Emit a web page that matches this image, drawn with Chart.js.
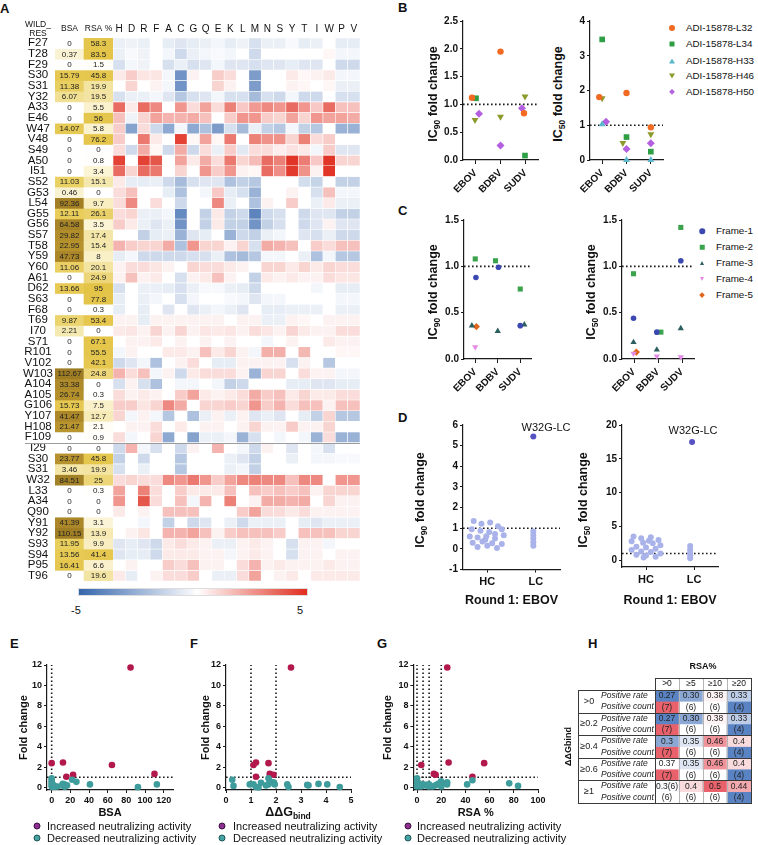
<!DOCTYPE html>
<html lang="en">
<head>
<meta charset="UTF-8">
<title>ADI-15878 mutational scanning</title>
<script src="https://cdn.jsdelivr.net/npm/chart.js"></script>
<style>
  html, body { margin: 0; padding: 0; background: #fff; }
  #fig { position: relative; width: 758px; height: 845px; overflow: hidden; background: #fff;
         font-family: Arial, "Liberation Sans", sans-serif; color: #111; }
  #fig canvas { position: absolute; }
  .t { position: absolute; white-space: nowrap; line-height: 1; }
  .panel { font-weight: bold; font-size: 13px; }
  .ytitle { font-weight: bold; font-size: 12.5px; }
  .sub { font-size: 8.5px; position: relative; top: 3px; }
  .leg { font-size: 9.8px; }
  .leg2 { font-size: 11px; }
  .hdr { font-size: 8.5px; }
  .mk { position: absolute; transform: translate(-50%, -50%); }
  #colorbar { position: absolute; left: 78px; top: 588px; width: 230px; height: 8px;
              background: linear-gradient(to right, #3465ac, #ffffff 52%, #e02d1e); border: 1px solid #ddd; box-sizing: border-box; }
</style>
</head>
<body>
<div id="fig"><div id="colorbar"></div></div>
<script>
// ---------------- A: heat map ----------------
const aminoAcids = ['H','D','R','F','A','C','G','Q','E','K','L','M','N','S','Y','T','I','W','P','V'];
const residues = ['F27','T28','F29','S30','S31','Y32','A33','E46','W47','V48','S49','A50','I51','S52','G53','L54',
  'G55','G56','S57','T58','Y59','Y60','A61','D62','S63','F68','T69','I70','S71','R101','V102','W103','A104','A105',
  'G106','Y107','H108','F109','I29','S30','S31','W32','L33','A34','Q90','Y91','Y92','S93','S94','P95','T96'];
const bsa = [0,0.37,0,15.79,11.38,6.07,0,0,14.07,0,0,0,0,11.03,0.46,92.36,12.11,64.58,29.82,22.95,47.73,11.06,0,
  13.66,0,0,9.87,2.21,0,0,0,112.67,33.38,26.74,15.73,41.47,21.47,0,0,23.77,3.46,84.51,0,0,0,41.39,110.15,11.95,
  13.56,16.41,0];
const rsa = [58.3,83.5,1.5,45.8,19.9,19.5,5.5,56,5.8,76.2,0,0.8,3.4,15.1,0,9.7,26.1,3.5,17.4,15.4,8,20.1,24.9,95,
  77.8,0.3,53.4,0,67.1,55.5,42.1,24.8,0,0.3,7.5,12.7,2.1,0.9,0,45.8,19.9,25,0.3,0,0,3.1,13.9,9.9,41.4,6.6,19.6];
const heavyRows = 38;
const heat = [
  [-0.5,-0.4,-0.5,0,-0.6,-0.8,-0.6,-0.5,-0.3,-0.6,-0.4,-1.0,-0.5,-0.5,-0.2,-0.6,-0.5,0,-0.6,-0.6],
  [-0.5,-0.2,-0.4,0,-0.3,-1.2,-0.5,-0.3,-0.2,-0.3,0,-1.2,0,0,0,0,0,0.2,-0.3,-0.3],
  [-1.0,-0.3,-0.4,0,-1.0,-0.5,-1.0,-0.8,-0.3,-0.8,-0.8,-1.0,-0.8,-0.8,-0.6,-0.8,-0.8,0,-1.2,-1.2],
  [0.5,1.2,0.6,0.6,-0.3,-3.5,0.3,0,1.2,0.8,0,-3.2,0,0,0.5,0.2,0.3,0.5,-0.3,-0.3],
  [0,1.0,0,0.3,-0.3,-3.5,0,0,1.0,0.3,0,-3.2,0,0,0.3,0.2,0,0.2,-0.5,-0.5],
  [-1.0,-0.5,-0.5,-0.3,-0.8,-1.8,-1.0,-0.8,-0.3,-1.0,-1.0,-2.2,-1.0,-1.2,-0.3,-1.2,-1.2,0,-1.0,-1.0],
  [3.5,0.5,3.5,2.8,0,2.5,0.8,2.2,0.8,3.0,1.3,2.4,2.8,2.5,3.5,2.5,1.3,3.5,1.5,1.5],
  [1.5,-0.4,1.0,2.2,1.8,1.8,2.0,1.5,0,1.2,2.5,2.5,1.2,1.0,2.2,1.0,2.5,2.2,2.2,2.0],
  [1.2,-3.0,0.8,-1.2,-2.8,-0.3,-2.8,-2.0,-3.2,-1.0,-2.2,-0.5,-1.5,-1.8,-0.3,-1.5,-1.8,0,-2.5,-2.5],
  [1.2,0,3.2,0.5,0,4.5,0.2,2.2,0.2,3.2,0,3.0,2.6,2.6,1.0,3.0,0.8,1.2,0,0],
  [0.8,-1.2,2.0,0.2,-1.2,2.0,-1.2,0.8,-0.5,1.2,-0.7,0.8,0.8,0.4,0.7,0.5,-0.3,1.2,-0.8,-0.8],
  [4.5,0,4.5,4.0,0,2.2,0.5,2.0,0.8,3.2,1.0,1.6,3.5,3.0,4.8,3.1,1.3,4.8,1.0,1.0],
  [3.5,1.0,3.5,3.2,0,1.0,0,2.5,1.2,2.5,0.3,0.2,3.5,2.7,4.7,2.6,0.3,4.8,0,0],
  [0.5,-0.6,-0.6,-0.5,-1.2,-2.2,-1.0,-0.8,-0.8,-2.0,-1.5,-1.8,0,0,0,-1.1,-1.4,0,-1.5,-1.5],
  [0.8,1.5,0,0,-0.6,-2.0,0,-0.3,1.3,-0.6,-1.0,-2.5,0,0,0.3,0,-1.0,1.5,-0.3,-0.3],
  [0.8,2.8,0,0.8,0,-1.2,0,0,2.8,-0.5,0,-2.0,0.3,0,1.2,0,-0.5,0.5,-0.5,-0.5],
  [0.8,1.0,-0.5,-0.5,-0.3,-3.8,0,-1.5,0.5,-1.5,-1.2,-4.0,-1.2,-1.0,0,-1.2,-0.8,-0.8,-1.5,-1.5],
  [1.2,0.5,-0.5,-0.8,-0.5,-3.5,0,-1.5,0.5,-1.5,-1.5,-3.5,-1.5,-1.0,0,-1.2,-0.8,0.3,-0.8,-0.8],
  [0,0,-1.5,-0.6,-0.5,-2.5,-0.8,-0.6,0,-2.5,-1.2,-1.5,-0.5,-0.3,0,-0.8,-1.0,-0.5,-1.2,-1.2],
  [1.8,1.2,1.0,1.0,2.0,-2.0,2.5,1.0,1.0,0.3,1.0,-1.0,2.0,1.8,1.5,0,1.2,0.8,1.5,1.5],
  [-0.6,-0.3,-1.2,-1.2,-1.2,-1.2,-1.0,-1.0,-0.5,-2.0,-2.2,-1.8,-0.3,-0.3,0,-0.5,-2.0,-0.3,-1.8,-1.8],
  [0.3,0.8,0.8,0.6,0.3,0,1.0,0.8,0.8,0.5,0.3,0,1.0,1.0,0.5,1.0,0.5,1.0,0.8,0.8],
  [0.3,1.5,0.3,0.5,0,-1.0,0.3,0.5,1.5,0.3,0,-1.5,0.5,0.3,0.5,0.3,0.3,0.8,0.6,0.6],
  [-1.0,0,-0.5,-0.5,-0.6,-1.0,-0.5,-0.2,-0.2,-0.5,-0.6,-1.2,0,0,0,0,-0.3,0,-0.6,-0.6],
  [-0.6,0,-0.5,-0.3,0,-1.0,-0.3,0,0,-0.2,-0.3,-0.8,-0.3,-0.3,0,0,0,0,-0.3,-0.3],
  [-0.6,0,-0.6,0,-0.8,0,-0.8,-0.5,-0.3,-0.5,-0.8,0,-0.6,-0.6,-0.5,-0.5,-0.5,0,-0.5,-0.5],
  [0.3,0.3,-0.6,0.3,0.3,0.3,0.3,0.3,0.3,0,0.3,0.3,-0.5,-0.5,0.3,0.2,0,0.3,0.3,0.3],
  [0.5,0.6,0.3,1.0,0.3,1.0,0.3,0.6,0.5,0.6,0.3,0.8,0.6,0.3,1.0,0.5,0.3,0.3,0.8,0.8],
  [0,0.3,0.3,0.5,0,0.3,0,0.3,0,0.3,0,0,-0.3,0,0.3,0,0,0.5,0.3,0.3],
  [-0.3,0.3,0,0,0.5,0.5,0.3,1.5,0.5,1.0,0.3,-0.3,1.9,1.9,0,1.7,0,0,0.2,0.2],
  [-1.2,-0.8,-0.3,-2.0,0,0.3,0.8,0,-0.6,-0.6,0.3,0.3,0.3,0.3,-1.0,0.3,0,-1.8,0,0],
  [1.8,0.8,1.5,-0.3,0.3,-1.2,0.5,0.8,0.8,0.8,0.3,-2.5,1.0,1.0,0,0.8,0.3,0.3,-0.3,-0.3],
  [-1.0,0.3,-1.0,-2.0,0,-0.3,-0.3,0,-0.3,-1.5,-1.2,0,0,0,-0.6,-0.6,-0.8,-0.8,-0.6,-0.6],
  [0.8,0.3,0.5,0.3,0,1.2,2.2,0.5,0.3,0.5,0.8,2.0,1.2,1.5,0.5,1.0,0.5,0.5,0.8,0.8],
  [1.2,1.2,0.6,1.0,2.8,2.0,0,1.0,1.0,1.2,1.0,2.5,1.2,1.8,0.8,1.5,1.5,0.3,1.5,1.5],
  [1.0,-0.3,0.3,-0.3,-1.8,0,-2.0,-0.5,0.3,-0.5,0.3,-0.8,-0.5,-0.8,0,-0.6,-1.5,1.0,-1.8,-1.8],
  [0,0.3,0.3,0.8,0,0.5,0,0.3,0.3,0,0.3,1.0,0.3,0.3,1.2,0.3,0.3,1.0,0,0],
  [0.8,-0.3,0,1.0,-2.8,0,-3.0,-0.5,-0.5,-0.3,-2.5,-1.0,0,-0.3,0,-0.3,-2.5,0.8,-2.5,-2.5],
  [-1.2,1.8,-0.3,-1.0,0,-1.2,0.3,0,1.8,0,-0.3,-1.2,0.3,0,-0.8,0,-0.3,-1.0,0,0],
  [-1.5,0,-1.2,0,0,-1.8,0,0,0,-0.5,-0.8,-1.5,0,0,-0.5,0,-0.3,-0.3,-0.2,-0.2],
  [-1.0,0,-0.5,0,0,-1.8,0,0,0,-0.5,-0.3,-1.5,0,0,0,0,0,0,0,0],
  [0.8,1.0,0.8,0.8,2.8,2.5,3.2,2.5,1.2,2.2,2.8,3.0,2.8,2.8,1.5,2.8,2.8,0,2.5,2.5],
  [2.2,0,3.0,0.8,0,1.2,0.5,0.5,0.5,1.5,0,1.5,1.2,1.5,1.2,1.5,0.3,1.0,1.0,1.0],
  [2.5,0,4.0,0.8,0,1.5,-0.3,1.8,0,3.0,0,0.3,2.0,2.0,1.8,2.0,0,1.0,0.3,0.3],
  [0.5,0,0.3,0,1.5,1.5,1.5,0,0,0,1.2,2.2,0.8,0.8,0.5,0.8,0.3,0.3,0.3,0.3],
  [0,0,-0.3,0,-1.5,0,-1.2,-0.8,0,-0.5,-1.2,-0.5,-0.5,-0.5,0,-0.6,-0.8,-0.5,-0.5,-0.5],
  [0,0.3,0.6,0,1.8,1.8,2.2,1.5,0.3,1.2,1.5,1.5,1.5,1.2,0,1.5,1.5,1.5,1.0,1.0],
  [-0.8,-0.6,-0.8,-1.2,0.5,0.8,0.5,0.3,-0.5,-0.5,0.3,0.5,0.3,0,-1.0,0.3,0.3,-0.3,0,0],
  [-0.8,-0.6,-0.6,-1.2,0.5,0.5,0.5,0.3,0.3,-0.3,0.3,0.5,0.3,0,-1.0,0.3,0.3,0,0.3,0.3],
  [0,0.3,0,0,1.2,0.8,1.5,0.3,0.3,0,0.8,1.8,0.3,0.5,0.3,0.3,0.3,0.5,0.3,0.3],
  [0.5,-0.6,0,0.3,0.8,0.8,1.2,0,-0.5,-0.5,0.8,2.2,0,0.3,0.5,0,0.5,0.5,0.5,0.5]
];

// ---------------- B: ADI-15878 mutants ----------------
const viruses = ['EBOV','BDBV','SUDV'];
const adiNames = ['ADI-15878-L32','ADI-15878-L34','ADI-15878-H33','ADI-15878-H46','ADI-15878-H50'];
// [virus position, fold change]
const adiIc90 = [
  [[0.86,1.12],[2,1.95],[2.94,0.84]],
  [[1.02,1.11],[2.98,0.08]],
  [],
  [[0.98,0.72],[2,0.78],[2.98,1.14]],
  [[1.14,0.83],[2,0.26],[2.86,0.93]]
];
const adiIc50 = [
  [[0.88,1.81],[2,1.93],[3,0.94]],
  [[1,3.47],[2,0.66],[3,0.24]],
  [[1,1.03],[2,0],[3,0]],
  [[1,1.78],[1.85,0.49],[3,0.74]],
  [[1.16,1.1],[2,0.32],[3,0.48]]
];

// ---------------- C: frameworks ----------------
const frameNames = ['Frame-1','Frame-2','Frame-3','Frame-4','Frame-5'];
const frameIc90 = [
  [[1.03,0.88],[2.03,0.99],[3,0.36]],
  [[1,1.08],[1.9,1.06],[3,0.755]],
  [[0.85,0.36],[2,0.30],[3.18,0.37]],
  [[1,0.13]],
  [[1.05,0.35]]
];
const frameIc50 = [
  [[0.98,0.44],[1.95,0.29],[2.95,1.06]],
  [[0.98,0.92],[2.12,0.29],[2.95,1.42]],
  [[0.98,0.18],[1.95,0.10],[2.95,0.33]],
  [[0.98,0.06],[1.95,0.03],[2.95,0.02]],
  [[1.1,0.075]]
];

// ---------------- D: round 1 on EBOV ----------------
const roundGroups = ['HC','LC'];
const hcIc90 = [[0.72,1.35],[0.88,1.22],[1.06,1.28],[1.22,1.1],[0.68,0.95],[0.86,0.88],[1.04,0.82],[1.3,0.95],
  [0.64,0.6],[0.8,0.55],[0.98,0.62],[1.16,0.5],[1.34,0.66],[0.7,0.3],[0.9,0.36],[1.1,0.28],[1.3,0.24],[0.8,0.1],
  [1.0,0.15],[1.2,0.05],[0.96,0.44],[1.16,0.72]];
const lcIc90 = [[1.95,0.85],[1.95,0.68],[1.95,0.5],[1.95,0.32],[1.95,0.16]];
const w32gIc90 = [[1.95,5.44]];
const hcIc50 = [[0.74,3.5],[0.9,3.25],[1.1,3.4],[1.26,3.0],[0.7,2.8],[0.94,2.6],[1.14,2.5],[1.3,2.2],[0.8,2.0],
  [1.0,1.9],[1.2,1.7],[0.7,1.5],[0.9,1.3],[1.1,1.2],[1.3,1.0],[0.8,0.8],[1.0,0.7],[1.2,0.5],[0.95,0.4],[1.06,2.9]];
const lcIc50 = [[1.92,2.1],[1.92,1.6],[1.92,1.1],[1.92,0.65],[1.92,0.3]];
const w32gIc50 = [[1.96,17.5]];

// ---------------- E-G: fold change vs structure ----------------
// increased: W32, R101, G55, G56, S30, T58, Y92
const incBsa = [84.51,0,12.11,64.58,15.79,22.95,110.15];
const incRsa = [25,55.5,26.1,3.5,45.8,15.4,13.9];
const incDdg = [2.6,1.7,1.2,1.1,1.2,1.9,1.75];
const incFc  = [11.75,2.38,2.45,2.2,1.05,1.25,1.33];
const decBsa = [[0,0.9],[0,0.7],[0,0.5],[0,0.3],[0,0.12],[0.5,0.05],[1.5,0.25],[2.5,0.15],[3.5,0.08],[6,0.1],
  [11,0.2],[12,0.35],[13.5,0.3],[14,0.08],[16.5,0.2],[22,0.75],[26.5,0.55],[41,0.3],[92.4,0.03],[112.7,0.3]];
const decDdg = [[0.25,0.75],[0.3,0.15],[0.95,0.3],[1.1,0.3],[1.2,0.05],[1.3,0.0],[1.4,0.45],[1.6,0.2],[1.7,0.9],
  [1.75,0.6],[1.7,0.3],[1.9,0.5],[1.95,0.3],[2.45,0.3],[2.5,0.05],[3.25,0.25],[3.3,0.2],[3.7,0.35],[4.05,0.3],[4.55,0.05]];
const decRsa = [[0,0.9],[0,0.6],[0,0.3],[0,0.1],[0.8,0.2],[1.5,0.4],[3,0.1],[5,0.3],[6.6,0.2],[8,0.25],[9.7,0.1],
  [9.9,0.3],[12.7,0.1],[15.1,0.2],[17.4,0.35],[19.9,0.6],[19.9,0.4],[20.1,0.1],[24.8,0.3],[24.9,0.5],[41.4,0.3],
  [45.8,0.7],[76.2,0.4],[83.5,0.15]];
const bsaCuts = [0];
const ddgCuts = [1, 2];
const rsaCuts = [0, 5, 10, 20];

// ---------------- H: positive rate table ----------------
const rsaBins = ['>0','≥5','≥10','≥20'];
const ddgBins = ['>0','≥0.2','≥0.4','≥0.6','≥1'];
const posRate = [[0.27,0.30,0.38,0.33],[0.27,0.30,0.38,0.33],[0.3,0.35,0.46,0.4],[0.37,0.35,0.46,0.4],[0.367,0.4,0.5,0.44]];
const rateLabels = [['0.27','0.30','0.38','0.33'],['0.27','0.30','0.38','0.33'],['0.3','0.35','0.46','0.4'],
  ['0.37','0.35','0.46','0.4'],['0.3(6)','0.4','0.5','0.44']];
const posCount = [[7,6,6,4],[7,6,6,4],[7,6,6,4],[7,6,6,4],[6,6,6,4]];

// ================= drawing =================
const fig = document.getElementById('fig');
const FONT = 'Arial, "Liberation Sans", sans-serif';
Chart.defaults.font.family = FONT;
Chart.defaults.color = '#111';
Chart.defaults.animation = false;
Chart.defaults.plugins.legend.display = false;
Chart.defaults.plugins.tooltip.enabled = false;

function hex2rgb(h) { return [1, 3, 5].map(i => parseInt(h.slice(i, i + 2), 16)); }
function ramp(stops, v) {
  if (v <= stops[0][0]) return stops[0][1];
  for (let k = 1; k < stops.length; k++) {
    if (v <= stops[k][0]) {
      const t = (v - stops[k - 1][0]) / (stops[k][0] - stops[k - 1][0]);
      const a = hex2rgb(stops[k - 1][1]), b = hex2rgb(stops[k][1]);
      return 'rgb(' + a.map((x, i) => Math.round(x + (b[i] - x) * t)).join(',') + ')';
    }
  }
  return stops[stops.length - 1][1];
}
const heatStops = [[-5, '#3465ac'], [0, '#ffffff'], [5, '#e02d1e']];
const bsaStops = [[0,'#ffffff'],[0.35,'#f9f3d4'],[2.5,'#f4e8ad'],[7,'#f0de8e'],[10,'#ebd46c'],[13,'#e7ca54'],
  [19,'#e4c54b'],[21,'#b9952f'],[35,'#ac8829'],[115,'#9e7c24']];
const rsaStops = [[0,'#ffffff'],[2.2,'#fffdf6'],[3,'#fbf4d6'],[8,'#f9f0c8'],[13,'#f6eab5'],[20,'#f3e4a2'],
  [24,'#efdb86'],[26,'#ead069'],[40,'#e6c74f'],[100,'#e4c446']];
const rateStops = [[0.27,'#5a83c3'],[0.37,'#ffffff'],[0.5,'#e8616b']];
const countStops = [[4,'#5a83c3'],[6,'#ffffff'],[7,'#e8616b']];

function addCanvas(l, t, w, h) {
  const c = document.createElement('canvas');
  c.width = w; c.height = h;
  c.style.left = l + 'px'; c.style.top = t + 'px';
  c.style.width = w + 'px'; c.style.height = h + 'px';
  fig.appendChild(c);
  return c;
}
function addText(html, x, y, cls, anchor) {
  const d = document.createElement('div');
  d.className = 't ' + (cls || '');
  d.innerHTML = html;
  d.style.left = x + 'px'; d.style.top = y + 'px';
  const tr = { c: 'translate(-50%,-50%)', l: 'translate(0,-50%)', tl: 'none',
               r: 'translate(-50%,-50%) rotate(-90deg)' }[anchor || 'c'];
  d.style.transform = tr;
  fig.appendChild(d);
}
function addMarker(shape, color, x, y, s, edge) {
  const d = document.createElement('div');
  d.className = 'mk';
  let css;
  if (shape === 'circle') css = `width:${s}px;height:${s}px;border-radius:50%;background:${color};` +
    (edge ? `border:1px solid ${edge};box-sizing:border-box;` : '');
  else if (shape === 'rect') css = `width:${s - 1}px;height:${s - 1}px;background:${color};`;
  else if (shape === 'up') css = `width:0;height:0;border-left:${s / 2}px solid transparent;border-right:${s / 2}px solid transparent;border-bottom:${s - 1}px solid ${color};`;
  else if (shape === 'down') css = `width:0;height:0;border-left:${s / 2}px solid transparent;border-right:${s / 2}px solid transparent;border-top:${s - 1}px solid ${color};`;
  else css = `width:${s * 0.7}px;height:${s * 0.7}px;background:${color};transform:translate(-50%,-50%) rotate(45deg);`;
  d.style.cssText = css + `left:${x}px;top:${y}px;`;
  fig.appendChild(d);
}

// ---- grid charts (heat map, BSA/RSA table, H table) ----
function gridDatasets(cols, nRows, colorFn, gap) {
  return Array.from({ length: nRows }, (_, i) => ({
    data: cols.map(() => 1),
    backgroundColor: cols.map((c, j) => colorFn(i, j)),
    borderColor: '#ffffff', borderWidth: gap, borderSkipped: false,
    barPercentage: 1, categoryPercentage: 1
  }));
}
function topAxis(fs, pad, h, title) {
  return {
    stacked: true, position: 'top',
    grid: { display: false, drawTicks: false }, border: { display: false },
    ticks: { font: { size: fs }, color: '#111', padding: pad, maxRotation: 0, minRotation: 0, autoSkip: false },
    title: title || { display: false },
    afterFit: s => { s.height = h; s.paddingLeft = s.paddingRight = 0; }
  };
}
function splitLine(x0) {
  return {
    id: 'splitLine',
    afterDatasetsDraw(chart) {
      const y = Math.round(chart.scales.y.getPixelForValue(heavyRows)) + 0.5;
      const ctx = chart.ctx;
      ctx.save(); ctx.strokeStyle = '#9c9c9c'; ctx.lineWidth = 1;
      ctx.beginPath(); ctx.moveTo(x0, y); ctx.lineTo(chart.chartArea.right, y); ctx.stroke();
      ctx.restore();
    }
  };
}
function cellText(textFn, font) {
  return {
    id: 'cellText',
    afterDatasetsDraw(chart) {
      const ctx = chart.ctx;
      ctx.save();
      ctx.font = font; ctx.fillStyle = '#222'; ctx.textAlign = 'center'; ctx.textBaseline = 'middle';
      chart.data.datasets.forEach((ds, i) => {
        chart.getDatasetMeta(i).data.forEach((el, j) => {
          ctx.fillText(textFn(i, j), el.x, (el.y + el.base) / 2 + 0.5);
        });
      });
      ctx.restore();
    }
  };
}

// BSA / RSA table with residue names
new Chart(addCanvas(0, 16, 113, 565), {
  type: 'bar',
  data: { labels: ['BSA', 'RSA %'],
          datasets: gridDatasets(['BSA', 'RSA %'], residues.length,
            (i, j) => j === 0 ? ramp(bsaStops, bsa[i]) : ramp(rsaStops, rsa[i]), 0) },
  options: {
    responsive: false, devicePixelRatio: 1, layout: { padding: 0 },
    scales: {
      x: topAxis(8.5, 4, 22),
      y: {
        stacked: true, min: 0, max: residues.length, reverse: true,
        grid: { display: false, drawTicks: false }, border: { display: false },
        afterBuildTicks: s => { s.ticks = residues.map((r, i) => ({ value: i + 0.5 })); },
        ticks: { callback: (v, i) => residues[i], autoSkip: false, crossAlign: 'center', padding: 2,
                 font: { size: 11.5 }, color: '#111' },
        afterFit: s => { s.width = 55; s.paddingTop = s.paddingBottom = 0; }
      }
    }
  },
  plugins: [cellText((i, j) => String(j === 0 ? bsa[i] : rsa[i]), '8px ' + FONT), splitLine(25)]
});

// heat map
new Chart(addCanvas(113, 16, 247, 565), {
  type: 'bar',
  data: { labels: aminoAcids,
          datasets: gridDatasets(aminoAcids, residues.length, (i, j) => ramp(heatStops, heat[i][j]), 0.6) },
  options: {
    responsive: false, devicePixelRatio: 1, layout: { padding: 0 },
    scales: {
      x: topAxis(10, 3, 22),
      y: { stacked: true, display: false, min: 0, max: residues.length, reverse: true }
    }
  },
  plugins: [splitLine(0)]
});

// H table
const tableDecor = {
  id: 'tableDecor',
  afterDatasetsDraw(chart) {
    const { ctx, chartArea: ca, scales: { y } } = chart;
    ctx.save();
    ctx.textBaseline = 'middle'; ctx.fillStyle = '#222';
    ctx.font = '8.5px ' + FONT; ctx.textAlign = 'center';
    chart.data.datasets.forEach((ds, i) => {
      const g = Math.floor(i / 2);
      chart.getDatasetMeta(i).data.forEach((el, j) => {
        const txt = i % 2 === 0 ? rateLabels[g][j] : '(' + posCount[g][j] + ')';
        ctx.fillText(txt, el.x, (el.y + el.base) / 2 + 0.5);
      });
    });
    const x0 = Math.round(ca.left - 77) + 0.5;
    ddgBins.forEach((g, gi) => {
      const yT = y.getPixelForValue(gi * 2), yM = y.getPixelForValue(gi * 2 + 1), yB = y.getPixelForValue(gi * 2 + 2);
      ctx.font = '9px ' + FONT; ctx.textAlign = 'center';
      ctx.fillText(g, ca.left - 66, yM);
      ctx.font = 'italic 8.5px ' + FONT; ctx.textAlign = 'left';
      ctx.fillText('Positive rate', ca.left - 54, (yT + yM) / 2);
      ctx.fillText('Positive count', ca.left - 54, (yM + yB) / 2);
    });
    const line = (a, b, c, d) => { ctx.beginPath(); ctx.moveTo(a, b); ctx.lineTo(c, d); ctx.stroke(); };
    ctx.lineWidth = 1;
    ctx.strokeStyle = '#b5b5b5';
    const cw = (ca.right - ca.left) / rsaBins.length;
    for (let j = 1; j < rsaBins.length; j++) {
      const xx = Math.round(ca.left + j * cw) + 0.5;
      line(xx, ca.top - 12, xx, ca.bottom);
    }
    ctx.strokeStyle = '#3a3a3a';
    const L = Math.round(ca.left) + 0.5, R = Math.round(ca.right) + 0.5;
    const T = Math.round(ca.top) + 0.5, B = Math.round(ca.bottom) + 0.5;
    ctx.strokeRect(x0, T, R - x0, B - T);
    ctx.strokeRect(L, T - 12, R - L, 12);
    line(L, T, L, B);
    for (let g = 1; g < ddgBins.length; g++) {
      const yy = Math.round(y.getPixelForValue(g * 2)) + 0.5;
      line(x0, yy, R, yy);
    }
    ctx.restore();
  }
};
new Chart(addCanvas(560, 655, 198, 155), {
  type: 'bar',
  data: { labels: rsaBins,
          datasets: gridDatasets(rsaBins, ddgBins.length * 2, (i, j) => {
            const g = Math.floor(i / 2);
            return i % 2 === 0 ? ramp(rateStops, posRate[g][j]) : ramp(countStops, posCount[g][j]);
          }, 0) },
  options: {
    responsive: false, devicePixelRatio: 1,
    layout: { padding: { left: 0, top: 0, right: 7, bottom: 7 } },
    scales: {
      x: topAxis(8.5, 1, 35, { display: true, text: 'RSA%', color: '#111', font: { size: 9, weight: 'bold' },
                                 padding: { top: 6, bottom: 0 } }),
      y: { stacked: true, min: 0, max: ddgBins.length * 2, reverse: true,
           grid: { display: false, drawTicks: false }, border: { display: false }, ticks: { display: false },
           title: { display: true, text: 'ΔΔGbind', color: '#111', font: { size: 9, weight: 'bold' }, padding: { top: 3, bottom: 0 } },
           afterFit: s => { s.width = 95; s.paddingTop = s.paddingBottom = 0; } }
    }
  },
  plugins: [tableDecor]
});

// ---- scatter plots ----
function mkAxis(o, fit, isX) {
  return {
    type: 'linear', min: o.min, max: o.max,
    grid: { display: true, drawOnChartArea: false, drawTicks: true, tickLength: o.tick ?? 3, color: '#1a1a1a', lineWidth: 1 },
    border: { display: true, color: '#1a1a1a', width: 1.2 },
    ticks: { font: { size: o.fs || 10, weight: 'bold' }, color: '#111', padding: o.pad ?? 2, autoSkip: false,
             maxRotation: o.rot || 0, minRotation: o.rot || 0, callback: o.fmt || (v => v) },
    title: o.title ? { display: true, text: o.title, color: '#111', font: { size: o.tfs || 11, weight: 'bold' },
                       padding: o.tpad || { top: 0, bottom: 0 } } : { display: false },
    afterBuildTicks: s => { s.ticks = o.at.map(v => ({ value: v })); },
    afterFit: s => {
      if (isX) s.height = fit; else s.width = fit;
      s.paddingTop = s.paddingBottom = s.paddingLeft = s.paddingRight = 0;
    }
  };
}
function scatter(area, pad, xo, yo, datasets) {
  const L = Math.round(area.l - pad.y), T = Math.round(area.t - pad.top);
  const R = Math.round(area.r + pad.right), B = Math.round(area.b + pad.x);
  return new Chart(addCanvas(L, T, R - L, B - T), {
    type: 'scatter',
    data: { datasets },
    options: {
      responsive: false, devicePixelRatio: 1,
      layout: { padding: { left: 0, top: area.t - T, right: R - area.r, bottom: 0 } },
      scales: { x: mkAxis(xo, B - area.b, true), y: mkAxis(yo, area.l - L, false) }
    }
  });
}
const radiusOf = { circle: 3.2, rect: 4, up: 4, down: 4, diamond: 4 };
const styleOf = { circle: 'circle', rect: 'rect', up: 'triangle', down: 'triangle', diamond: 'rectRot' };
function ptSet(p, color, shape, r) {
  return { data: p.map(q => ({ x: q[0], y: q[1] })), pointStyle: styleOf[shape],
           pointRotation: shape === 'down' ? 180 : 0, pointRadius: r || radiusOf[shape],
           backgroundColor: color, borderColor: color, borderWidth: 0, clip: false, order: 1 };
}
function dotted(x0, y0, x1, y1) {
  return { data: [{ x: x0, y: y0 }, { x: x1, y: y1 }], showLine: true, borderColor: '#1a1a1a',
           borderWidth: 1.6, borderDash: [1.6, 2.4], pointRadius: 0, clip: false, order: 5 };
}
const adiColors = ['#f26a22', '#2f9f45', '#5bb7cc', '#8c9a2c', '#b45fe0'];
const frameColors = ['#3a48b0', '#3aa34b', '#2b5e5e', '#e48be6', '#e0651d'];
const shapes = ['circle', 'rect', 'up', 'down', 'diamond'];
const virusAxis = { min: 0.5, max: 3.5, at: [1, 2, 3], fmt: v => viruses[v - 1], rot: 45, tick: 4, pad: 3 };
const dec1 = v => v.toFixed(1);

// B
scatter({ l: 463, t: 21, r: 538, b: 160 }, { y: 25, top: 9, right: 4, x: 40 }, virusAxis,
  { min: 0, max: 2.5, at: [0, 0.5, 1, 1.5, 2, 2.5], fmt: dec1 },
  [dotted(0.5, 1, 3.5, 1)].concat(adiIc90.map((p, k) => ptSet(p, adiColors[k], shapes[k]))));
scatter({ l: 590, t: 21, r: 663, b: 160 }, { y: 20, top: 9, right: 4, x: 40 }, virusAxis,
  { min: 0, max: 4, at: [0, 1, 2, 3, 4] },
  [dotted(0.5, 1, 3.5, 1)].concat(adiIc50.map((p, k) => ptSet(p, adiColors[k], shapes[k]))));
// C
scatter({ l: 464, t: 220, r: 531.5, b: 359 }, { y: 26, top: 9, right: 4, x: 40 }, virusAxis,
  { min: 0, max: 1.5, at: [0, 0.5, 1, 1.5], fmt: dec1 },
  [dotted(0.5, 1, 3.5, 1)].concat(frameIc90.map((p, k) => ptSet(p, frameColors[k], shapes[k], radiusOf[shapes[k]] - 0.4))));
scatter({ l: 622, t: 220, r: 694, b: 359 }, { y: 26, top: 9, right: 4, x: 40 }, virusAxis,
  { min: 0, max: 1.5, at: [0, 0.5, 1, 1.5], fmt: dec1 },
  [dotted(0.5, 1, 3.5, 1)].concat(frameIc50.map((p, k) => ptSet(p, frameColors[k], shapes[k], radiusOf[shapes[k]] - 0.4))));
// D
const roundAxis = { min: 0.5, max: 2.5, at: [1, 2], fmt: v => roundGroups[v - 1], fs: 11, tick: 3, pad: 3,
                    title: 'Round 1: EBOV', tfs: 12.5, tpad: { top: 0, bottom: 0 } };
const lightPurple = '#a9b3ea', darkPurple = '#5752c4';
scatter({ l: 463, t: 425, r: 560, b: 569.6 }, { y: 25, top: 9, right: 4, x: 38 }, roundAxis,
  { min: -1, max: 6, at: [-1, 0, 1, 2, 3, 4, 5, 6] },
  [dotted(0.5, 1, 2.5, 1), ptSet(hcIc90, lightPurple, 'circle', 3), ptSet(lcIc90, lightPurple, 'circle', 3),
   ptSet(w32gIc90, darkPurple, 'circle', 3)]);
scatter({ l: 622, t: 425, r: 718, b: 567 }, { y: 26, top: 9, right: 4, x: 40.6 }, roundAxis,
  { min: -1, max: 20, at: [0, 5, 10, 15, 20] },
  [dotted(0.5, 1, 2.5, 1), ptSet(hcIc50, lightPurple, 'circle', 3), ptSet(lcIc50, lightPurple, 'circle', 3),
   ptSet(w32gIc50, darkPurple, 'circle', 3)]);

// E, F, G
const incColor = '#b3184c', decColor = '#3f9c9c';
const fcAxis = pt => ({ min: -0.25, max: 12, at: [0, 2, 4, 6, 8, 10, 12], fs: 9, title: 'Fold change', tfs: 11,
                        tpad: { top: pt, bottom: 0 } });
function zip(xs, ys) { return xs.map((x, i) => [x, ys[i]]); }
function cutLines(cuts, xmin, xmax) {
  return [dotted(xmin, 1, xmax, 1)].concat(cuts.map(c => dotted(c, -0.25, c, 12)));
}
scatter({ l: 47, t: 665, r: 173, b: 790 }, { y: 33, top: 8, right: 8, x: 30 },
  { min: -5, max: 130, at: [0, 20, 40, 60, 80, 100, 120], fs: 9, title: 'BSA', tfs: 11 }, fcAxis(3),
  cutLines(bsaCuts, -5, 130).concat([ptSet(decBsa, decColor, 'circle', 3.3), ptSet(zip(incBsa, incFc), incColor, 'circle', 3.3)]));
scatter({ l: 226, t: 665, r: 351, b: 790 }, { y: 32, top: 8, right: 8, x: 30 },
  { min: 0, max: 5, at: [0, 1, 2, 3, 4, 5], fs: 9 }, fcAxis(5),
  cutLines(ddgCuts, 0, 5).concat([ptSet(decDdg, decColor, 'circle', 3.3), ptSet(zip(incDdg, incFc), incColor, 'circle', 3.3)]));
scatter({ l: 413.4, t: 665, r: 538, b: 790 }, { y: 37.4, top: 8, right: 8, x: 30 },
  { min: -3, max: 100, at: [0, 20, 40, 60, 80, 100], fs: 9, title: 'RSA %', tfs: 11 }, fcAxis(5),
  cutLines(rsaCuts, -3, 100).concat([ptSet(decRsa, decColor, 'circle', 3.3), ptSet(zip(incRsa, incFc), incColor, 'circle', 3.3)]));

// ---- text, legends ----
[['A', 0, 2], ['B', 398, 1], ['C', 398, 204], ['D', 398, 411], ['E', 10, 637], ['F', 190, 637], ['G', 377, 637], ['H', 588, 637]]
  .forEach(([s, x, y]) => addText(s, x, y, 'panel', 'tl'));
addText('WILD_', 38, 24, 'hdr');
addText('RES', 38, 33, 'hdr');
addText('-5', 76, 610, 'leg2');
addText('5', 300, 610, 'leg2');

const ic = n => 'IC<span class="sub">' + n + '</span> fold change';
addText(ic(90), 433, 94, 'ytitle', 'r');
addText(ic(50), 558, 94, 'ytitle', 'r');
addText(ic(90), 433, 292, 'ytitle', 'r');
addText(ic(50), 591, 292, 'ytitle', 'r');
addText(ic(90), 420, 500, 'ytitle', 'r');
addText(ic(50), 583, 500, 'ytitle', 'r');
addText('W32G-LC', 546, 427, 'leg2');
addText('W32G-LC', 693, 430, 'leg2');
addText('ΔΔG<span class="sub" style="font-size:8.5px">bind</span>', 288, 812, 'ytitle');

[28, 44, 61, 76, 92].forEach((y, k) => {
  addMarker(shapes[k], adiColors[k], 672, y, 6);
  addText(adiNames[k], 686, y, 'leg', 'l');
});
[231, 247, 263, 279, 295].forEach((y, k) => {
  addMarker(shapes[k], frameColors[k], 702, y, 5.5);
  addText(frameNames[k], 716, y, 'leg', 'l');
});
[[37, 47], [222, 233], [408, 417]].forEach(([mx, tx]) => {
  addMarker('circle', '#8e2d90', mx, 826, 7, '#3a1040');
  addText('Increased neutralizing activity', tx, 826, 'leg2', 'l');
  addMarker('circle', '#45a3a3', mx, 838, 7, '#1f5555');
  addText('Decreased neutralizing activity', tx, 838, 'leg2', 'l');
});
</script>
</body>
</html>
